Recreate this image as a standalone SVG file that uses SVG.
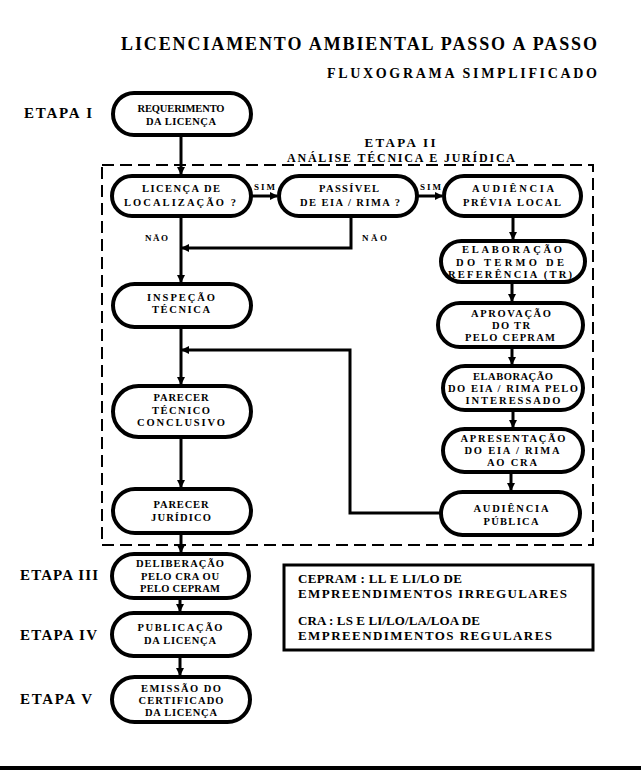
<svg xmlns="http://www.w3.org/2000/svg" width="641" height="772" viewBox="0 0 641 772">
<defs>
<marker id="ah" markerWidth="8" markerHeight="8" refX="7" refY="4" orient="auto" markerUnits="userSpaceOnUse">
<path d="M0,0 L8,4 L0,8 z" fill="#000"/>
</marker>
<style>
text{font-family:"Liberation Serif","Times New Roman",serif;font-weight:bold;fill:#000}
.n{font-size:10.5px;text-anchor:middle}
.et{font-size:15px}
.lb{font-size:9px}
.lg{font-size:13px}
.box{fill:#fff;stroke:#000;stroke-width:4}
.c{fill:none;stroke:#000;stroke-width:3}
</style>
</defs>
<rect width="641" height="772" fill="#fff"/>
<text x="359" y="50" font-size="18" text-anchor="middle" textLength="476" lengthAdjust="spacing">LICENCIAMENTO AMBIENTAL PASSO A PASSO</text>
<text x="462" y="78" font-size="14" text-anchor="middle" textLength="270" lengthAdjust="spacing">FLUXOGRAMA SIMPLIFICADO</text>
<text class="et" x="24" y="118" textLength="68" lengthAdjust="spacing">ETAPA I</text>
<text x="400" y="147" font-size="13" text-anchor="middle" textLength="71" lengthAdjust="spacing">ETAPA II</text>
<text x="401" y="162" font-size="12" text-anchor="middle" textLength="228" lengthAdjust="spacing">ANÁLISE TÉCNICA E JURÍDICA</text>
<text class="et" x="20" y="580" textLength="78" lengthAdjust="spacing">ETAPA III</text>
<text class="et" x="20" y="640" textLength="77" lengthAdjust="spacing">ETAPA IV</text>
<text class="et" x="20" y="704" textLength="72" lengthAdjust="spacing">ETAPA V</text>
<rect x="102" y="165" width="491" height="380" fill="none" stroke="#000" stroke-width="2" stroke-dasharray="12,6"/>
<g id="connectors">
<path class="c" d="M181,135 V174" marker-end="url(#ah)"/>
<path class="c" d="M251,196 H277" marker-end="url(#ah)"/>
<path class="c" d="M417,196 H442" marker-end="url(#ah)"/>
<path class="c" d="M181,216 V282" marker-end="url(#ah)"/>
<path class="c" d="M351,216 V248 H182" marker-end="url(#ah)"/>
<path class="c" d="M181,327 V384" marker-end="url(#ah)"/>
<path class="c" d="M440,513 H350 V350 H182" marker-end="url(#ah)"/>
<path class="c" d="M181,437 V487" marker-end="url(#ah)"/>
<path class="c" d="M181,533 V552" marker-end="url(#ah)"/>
<path class="c" d="M180,597 V611" marker-end="url(#ah)"/>
<path class="c" d="M180,655 V675" marker-end="url(#ah)"/>
<path class="c" d="M513,215 V239" marker-end="url(#ah)"/>
<path class="c" d="M512,282 V301" marker-end="url(#ah)"/>
<path class="c" d="M512,347 V364" marker-end="url(#ah)"/>
<path class="c" d="M513,410 V427" marker-end="url(#ah)"/>
<path class="c" d="M511,472 V490" marker-end="url(#ah)"/>
<text class="lb" x="254" y="190" textLength="21" lengthAdjust="spacing">SIM</text>
<text class="lb" x="420" y="190" textLength="21" lengthAdjust="spacing">SIM</text>
<text class="lb" x="145" y="241" textLength="23" lengthAdjust="spacing">NÃO</text>
<text class="lb" x="362" y="241" textLength="25" lengthAdjust="spacing">NÃO</text>
</g>
<g id="n1"><rect class="box" x="113" y="93" width="138" height="42" rx="21"/>
<text class="n" x="181" y="112" textLength="87" lengthAdjust="spacing">REQUERIMENTO</text>
<text class="n" x="181" y="125" textLength="70" lengthAdjust="spacing">DA LICENÇA</text></g>
<g id="n2"><rect class="box" x="112" y="176" width="139" height="40" rx="20"/>
<text class="n" x="181" y="192" textLength="78" lengthAdjust="spacing">LICENÇA DE</text>
<text class="n" x="180" y="206" textLength="112" lengthAdjust="spacing">LOCALIZAÇÃO ?</text></g>
<g id="n3"><rect class="box" x="279" y="176" width="138" height="40" rx="20"/>
<text class="n" x="349" y="192" textLength="60" lengthAdjust="spacing">PASSÍVEL</text>
<text class="n" x="350" y="206" textLength="100" lengthAdjust="spacing">DE EIA / RIMA ?</text></g>
<g id="n4"><rect class="box" x="444" y="176" width="137" height="40" rx="20"/>
<text class="n" x="513" y="192" textLength="82" lengthAdjust="spacing">AUDIÊNCIA</text>
<text class="n" x="512" y="206" textLength="98" lengthAdjust="spacing">PRÉVIA LOCAL</text></g>
<g id="n5"><rect class="box" x="113" y="284" width="138" height="43" rx="21.5"/>
<text class="n" x="181" y="301" textLength="68" lengthAdjust="spacing">INSPEÇÃO</text>
<text class="n" x="181" y="313" textLength="58" lengthAdjust="spacing">TÉCNICA</text></g>
<g id="n6"><rect class="box" x="441" y="241" width="144" height="41" rx="20.5"/>
<text class="n" x="512" y="253" textLength="100" lengthAdjust="spacing">ELABORAÇÃO</text>
<text class="n" x="510" y="266" textLength="108" lengthAdjust="spacing">DO TERMO DE</text>
<text class="n" x="510" y="278" textLength="124" lengthAdjust="spacing">REFERÊNCIA (TR)</text></g>
<g id="n7"><rect class="box" x="438" y="303" width="145" height="44" rx="22"/>
<text class="n" x="511" y="317" textLength="80" lengthAdjust="spacing">APROVAÇÃO</text>
<text class="n" x="511" y="329" textLength="38" lengthAdjust="spacing">DO TR</text>
<text class="n" x="510" y="341" textLength="90" lengthAdjust="spacing">PELO CEPRAM</text></g>
<g id="n8"><rect class="box" x="443" y="366" width="140" height="44" rx="22"/>
<text class="n" x="513" y="380" textLength="80" lengthAdjust="spacing">ELABORAÇÃO</text>
<text class="n" x="513" y="392" textLength="130" lengthAdjust="spacing">DO EIA / RIMA PELO</text>
<text class="n" x="513" y="404" textLength="95" lengthAdjust="spacing">INTERESSADO</text></g>
<g id="n9"><rect class="box" x="443" y="429" width="140" height="43" rx="21.5"/>
<text class="n" x="513" y="442" textLength="105" lengthAdjust="spacing">APRESENTAÇÃO</text>
<text class="n" x="512" y="454" textLength="95" lengthAdjust="spacing">DO EIA / RIMA</text>
<text class="n" x="512" y="466" textLength="50" lengthAdjust="spacing">AO CRA</text></g>
<g id="n10"><rect class="box" x="441" y="492" width="139" height="43" rx="21.5"/>
<text class="n" x="511" y="512" textLength="75" lengthAdjust="spacing">AUDIÊNCIA</text>
<text class="n" x="511" y="525" textLength="55" lengthAdjust="spacing">PÚBLICA</text></g>
<g id="n11"><rect class="box" x="113" y="386" width="138" height="51" rx="25.5"/>
<text class="n" x="181" y="401" textLength="55" lengthAdjust="spacing">PARECER</text>
<text class="n" x="181" y="414" textLength="58" lengthAdjust="spacing">TÉCNICO</text>
<text class="n" x="181" y="426" textLength="88" lengthAdjust="spacing">CONCLUSIVO</text></g>
<g id="n12"><rect class="box" x="113" y="489" width="138" height="44" rx="22"/>
<text class="n" x="181" y="508" textLength="55" lengthAdjust="spacing">PARECER</text>
<text class="n" x="181" y="521" textLength="60" lengthAdjust="spacing">JURÍDICO</text></g>
<g id="n13"><rect class="box" x="112" y="554" width="137" height="44" rx="22"/>
<text class="n" x="180" y="567" textLength="88" lengthAdjust="spacing">DELIBERAÇÃO</text>
<text class="n" x="180" y="580" textLength="78" lengthAdjust="spacing">PELO CRA OU</text>
<text class="n" x="180" y="592" textLength="80" lengthAdjust="spacing">PELO CEPRAM</text></g>
<g id="n14"><rect class="box" x="112" y="613" width="138" height="43" rx="21.5"/>
<text class="n" x="180" y="631" textLength="85" lengthAdjust="spacing">PUBLICAÇÃO</text>
<text class="n" x="180" y="644" textLength="72" lengthAdjust="spacing">DA LICENÇA</text></g>
<g id="n15"><rect class="box" x="112" y="677" width="138" height="45" rx="22.5"/>
<text class="n" x="181" y="692" textLength="80" lengthAdjust="spacing">EMISSÃO DO</text>
<text class="n" x="181" y="704" textLength="85" lengthAdjust="spacing">CERTIFICADO</text>
<text class="n" x="181" y="716" textLength="72" lengthAdjust="spacing">DA LICENÇA</text></g>
<g id="legend"><rect x="284" y="565" width="309" height="85" fill="#fff" stroke="#000" stroke-width="3"/>
<text class="lg" x="298" y="583" textLength="164" lengthAdjust="spacing">CEPRAM : LL E LI/LO DE</text>
<text class="lg" x="298" y="598" textLength="269" lengthAdjust="spacing">EMPREENDIMENTOS IRREGULARES</text>
<text class="lg" x="298" y="625" textLength="182" lengthAdjust="spacing">CRA : LS E LI/LO/LA/LOA DE</text>
<text class="lg" x="298" y="640" textLength="254" lengthAdjust="spacing">EMPREENDIMENTOS REGULARES</text></g>
<rect x="0" y="766" width="641" height="4" fill="#000"/>
</svg>
